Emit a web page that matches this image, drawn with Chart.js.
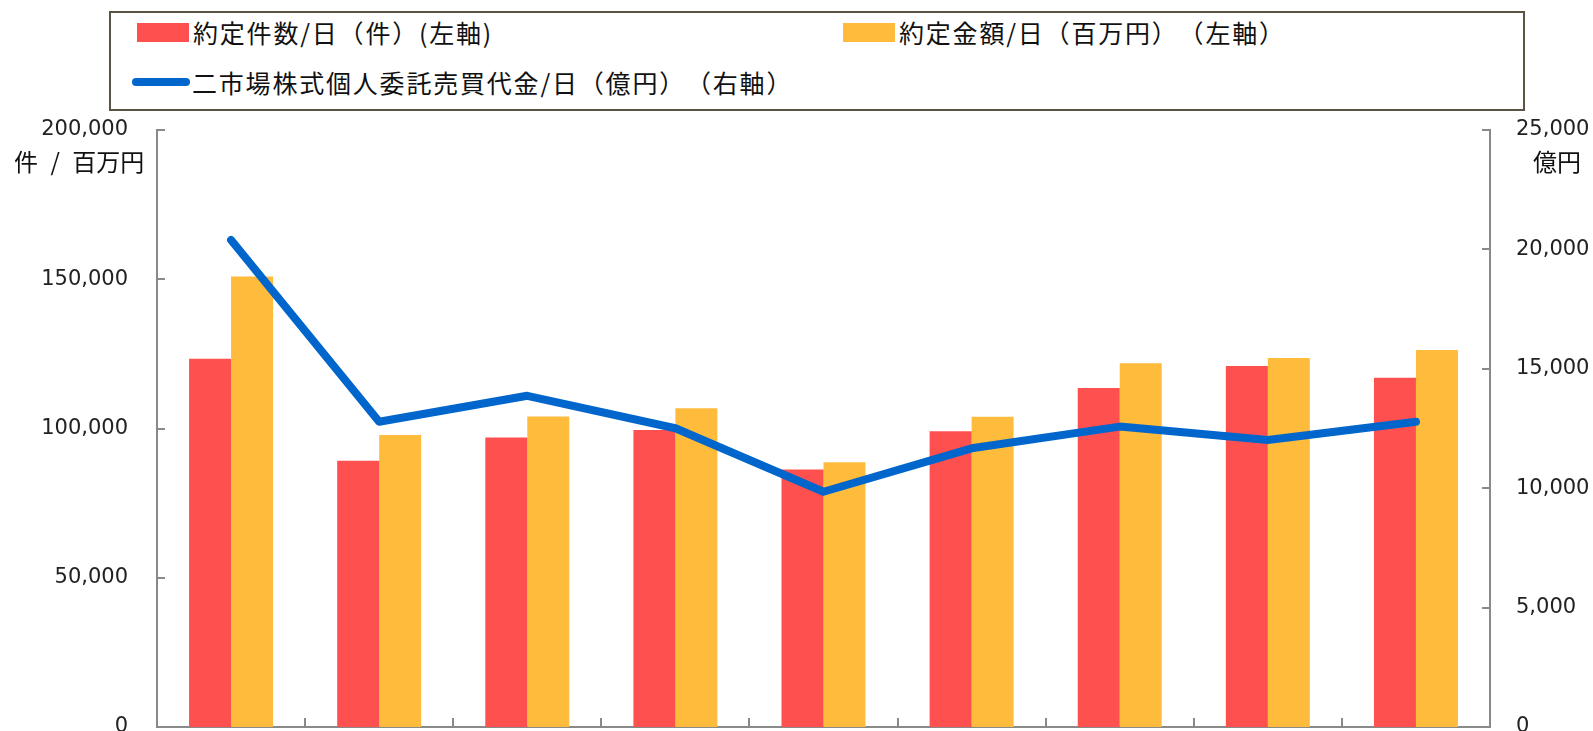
<!DOCTYPE html>
<html lang="ja">

<head>
  <meta charset="UTF-8">
  <title>約定件数・約定金額</title>
  <script src="https://cdn.jsdelivr.net/npm/chart.js"></script>
  <style>
    body { margin: 0; background: #fff; }
    #wrap { position: relative; width: 1593px; height: 731px; overflow: hidden; }
    #legendBox {
      position: absolute; left: 109px; top: 11px; width: 1412px; height: 96px;
      border: 2px solid #595443; background: #fff;
      font-family: "Noto Sans CJK JP", sans-serif; font-size: 25px; letter-spacing: 1.8px; color: #111;
      text-spacing-trim: space-all;
    }
    .item { position: absolute; display: flex; align-items: center; height: 30px; white-space: nowrap; }
    .swatch { display: inline-block; width: 52px; height: 19px; margin-right: 4px; }
    .lineSw { display: inline-block; width: 58px; height: 8px; border-radius: 4px; margin-right: 2px; }
    .axisTitle {
      position: absolute; font-family: "Noto Sans CJK JP", sans-serif; font-size: 24px; color: #111;
      white-space: nowrap;
    }
  </style>
</head>

<body>
  <div id="wrap">
    <canvas id="chart"></canvas>
    <div id="legendBox"></div>
    <div class="axisTitle" style="left:14px; top:143px; word-spacing:7px;">件 / 百万円</div>
    <div class="axisTitle" style="left:1533px; top:143px;">億円</div>
  </div>

  <script>
    // 各月の値（横軸ラベルは画像の下で切れているため非表示）
    const categories = ['1', '2', '3', '4', '5', '6', '7', '8', '9'];
    const tradesPerDay = [123400, 89200, 97000, 99500, 86300, 99100, 113600, 120900, 117000];   // 約定件数/日（件）
    const amountPerDay = [150900, 97800, 104000, 106800, 88700, 103900, 121900, 123600, 126300]; // 約定金額/日（百万円）
    const marketValue = [20390, 12780, 13870, 12510, 9850, 11670, 12580, 12020, 12780];          // 二市場株式個人委託売買代金/日（億円）
    const leftTicks = [0, 50000, 100000, 150000, 200000];
    const rightTicks = [0, 5000, 10000, 15000, 20000, 25000];

    const seriesNames = [
      '約定件数/日（件）(左軸)',
      '約定金額/日（百万円）（左軸）',
      '二市場株式個人委託売買代金/日（億円）（右軸）'
    ];
    const RED = '#FF5050';
    const ORANGE = '#FFBC3C';
    const BLUE = '#0066CC';
    const AXIS = '#898989';

    // HTML legend
    const legendBox = document.getElementById('legendBox');
    legendBox.innerHTML = `
      <div class="item" style="left:26px; top:4px;"><span class="swatch" style="background:${RED}"></span>${seriesNames[0]}</div>
      <div class="item" style="left:732px; top:4px;"><span class="swatch" style="background:${ORANGE}"></span>${seriesNames[1]}</div>
      <div class="item" style="left:21px; top:54px;"><span class="lineSw" style="background:${BLUE}"></span>${seriesNames[2]}</div>
    `;

    const fmt = v => v.toLocaleString('en-US');

    // inner tick marks like the original (ticks point into the plot)
    const innerTicks = {
      id: 'innerTicks',
      afterDraw(chart) {
        const { ctx, chartArea, scales } = chart;
        ctx.save();
        ctx.strokeStyle = AXIS;
        ctx.lineWidth = 2;
        ctx.beginPath();
        leftTicks.forEach(v => {
          const y = Math.round(scales.y.getPixelForValue(v));
          ctx.moveTo(chartArea.left, y);
          ctx.lineTo(chartArea.left + 8, y);
        });
        rightTicks.forEach(v => {
          const y = Math.round(scales.y1.getPixelForValue(v));
          ctx.moveTo(chartArea.right, y);
          ctx.lineTo(chartArea.right - 8, y);
        });
        const xs = scales.x;
        for (let i = 1; i < categories.length; i++) {
          const x = Math.round((xs.getPixelForValue(i - 1) + xs.getPixelForValue(i)) / 2);
          ctx.moveTo(x, chartArea.bottom);
          ctx.lineTo(x, chartArea.bottom - 9);
        }
        ctx.stroke();
        ctx.restore();
      }
    };

    const tickFont = { family: '"DejaVu Sans", Verdana, sans-serif', size: 21 };

    new Chart(document.getElementById('chart'), {
      data: {
        labels: categories,
        datasets: [
          {
            type: 'line',
            label: seriesNames[2],
            data: marketValue,
            yAxisID: 'y1',
            borderColor: BLUE,
            borderWidth: 8,
            borderCapStyle: 'round',
            borderJoinStyle: 'round',
            pointRadius: 0,
            tension: 0,
            order: 0
          },
          {
            type: 'bar',
            label: seriesNames[0],
            data: tradesPerDay,
            yAxisID: 'y',
            backgroundColor: RED,
            categoryPercentage: 0.567,
            barPercentage: 1.0,
            order: 1
          },
          {
            type: 'bar',
            label: seriesNames[1],
            data: amountPerDay,
            yAxisID: 'y',
            backgroundColor: ORANGE,
            categoryPercentage: 0.567,
            barPercentage: 1.0,
            order: 1
          }
        ]
      },
      options: {
        responsive: true,
        maintainAspectRatio: false,
        animation: false,
        layout: { padding: { top: 130, left: 0, right: 0, bottom: 0 } },
        plugins: {
          legend: { display: false },
          tooltip: { enabled: false }
        },
        scales: {
          x: {
            offset: true,
            grid: { display: false, drawTicks: false },
            border: { display: true, color: AXIS, width: 2 },
            ticks: { display: false },
            afterFit: s => { s.height = 4; }
          },
          y: {
            position: 'left',
            min: 0,
            max: 200000,
            afterBuildTicks: s => { s.ticks = leftTicks.map(v => ({ value: v })); },
            grid: { display: false, drawTicks: false },
            border: { display: true, color: AXIS, width: 2 },
            ticks: { font: tickFont, color: '#222', padding: 29, callback: v => fmt(v) },
            afterFit: s => { s.width = 157; s.paddingTop = 0; s.paddingBottom = 0; }
          },
          y1: {
            position: 'right',
            min: 0,
            max: 25000,
            afterBuildTicks: s => { s.ticks = rightTicks.map(v => ({ value: v })); },
            grid: { display: false, drawTicks: false },
            border: { display: true, color: AXIS, width: 2 },
            ticks: { font: tickFont, color: '#222', padding: 26, callback: v => fmt(v) },
            afterFit: s => { s.width = 103; s.paddingTop = 0; s.paddingBottom = 0; }
          }
        }
      },
      plugins: [innerTicks]
    });
  </script>
</body>

</html>
